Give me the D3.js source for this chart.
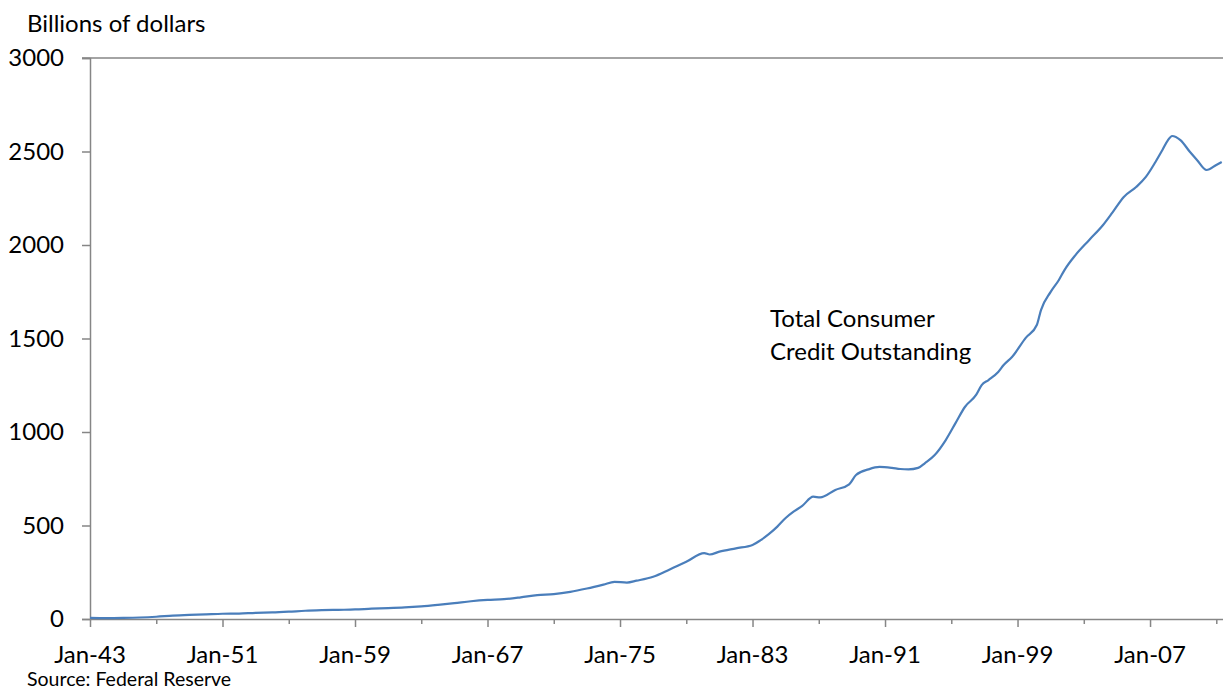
<!DOCTYPE html>
<html>
<head>
<meta charset="utf-8">
<script src="https://cdn.jsdelivr.net/npm/d3@7"></script>
<style>
  html, body { margin: 0; padding: 0; background: #fff; }
  svg { display: block; font-family: Lato, "Open Sans", sans-serif; }
</style>
</head>
<body>
<svg id="chart" width="1223" height="690"></svg>
<script>
// Total consumer credit outstanding, billions of dollars
const months = [
  "1943-01","1944-01","1945-01","1946-01","1947-01","1948-01","1949-01","1950-01",
  "1951-01","1952-01","1953-01","1954-01","1955-01","1956-01","1957-01","1958-01",
  "1959-01","1960-01","1961-01","1962-01","1963-01","1964-01","1965-01","1966-01",
  "1967-01","1968-01","1969-01","1970-01","1971-01","1972-01","1973-01","1974-01",
  "1974-09","1975-06","1976-01","1977-01","1978-01","1979-01","1980-02","1980-06",
  "1981-01","1982-01","1983-01","1983-07","1984-01","1984-07","1985-01","1985-07",
  "1986-01","1986-09","1987-02","1988-01","1988-11","1989-04","1990-01","1990-09",
  "1991-06","1991-12","1992-06","1993-01","1993-06","1994-01","1994-09","1995-04",
  "1995-11","1996-07","1996-11","1997-04","1997-11","1998-03","1998-09","1999-07",
  "2000-03","2000-06","2001-01","2001-07","2001-11","2002-07","2003-05","2004-03",
  "2004-10","2005-06","2006-03","2006-10","2007-05","2007-10","2008-02","2008-05",
  "2008-11","2009-06","2009-11","2010-06","2011-01","2011-05"
];
const credit = [
  6, 5, 6, 8, 12, 18, 22, 25,
  28, 29, 33, 35, 39, 44, 47, 49,
  51, 55, 58, 62, 68, 76, 85, 95,
  102, 106, 116, 128, 133, 145, 163, 184,
  199, 195, 205, 226, 265, 306, 352, 345,
  360, 378, 396, 422, 455, 494, 540, 575,
  605, 654, 650, 690, 720, 770, 800, 813,
  808, 802, 800, 808, 834, 877, 957, 1046,
  1135, 1198, 1251, 1278, 1321, 1358, 1401, 1503,
  1572, 1652, 1749, 1813, 1866, 1946, 2027, 2107,
  2176, 2257, 2310, 2364, 2444, 2508, 2561, 2583,
  2561, 2497, 2455, 2401, 2428, 2444
];
const yTicks = [0, 500, 1000, 1500, 2000, 2500, 3000];
const xTickYears = [1943, 1947, 1951, 1955, 1959, 1963, 1967, 1971, 1975, 1979,
                    1983, 1987, 1991, 1995, 1999, 2003, 2007, 2011];
const labelYears = [1943, 1951, 1959, 1967, 1975, 1983, 1991, 1999, 2007];

const parse = d3.timeParse("%Y-%m");
const data = months.map((m, i) => ({ date: parse(m), value: credit[i] }));

const svg = d3.select("#chart");
const plotLeft = 90, plotRight = 1223, plotTop = 58, plotBottom = 619;
const axisColor = "#868686";
const fontSize = 24;

const x = d3.scaleTime()
  .domain([new Date(1943, 0, 1), new Date(2011, 4, 29)])
  .range([plotLeft, plotRight]);
const y = d3.scaleLinear().domain([0, 3000]).range([plotBottom, plotTop]);

// Top border of plot area
svg.append("line")
  .attr("x1", plotLeft - 8).attr("x2", plotRight)
  .attr("y1", plotTop).attr("y2", plotTop)
  .attr("stroke", axisColor).attr("stroke-width", 1.5);

// Y axis
const yAxis = svg.append("g").attr("transform", `translate(${plotLeft},0)`)
  .call(d3.axisLeft(y).tickValues(yTicks).tickSize(8).tickPadding(18)
    .tickFormat(d3.format("d")));
yAxis.select(".domain").attr("stroke", axisColor).attr("stroke-width", 1.5);
yAxis.selectAll(".tick line").attr("stroke", axisColor).attr("stroke-width", 1.5);
yAxis.selectAll(".tick text")
  .attr("font-family", "Lato, sans-serif").attr("font-size", fontSize).attr("fill", "#000");

// X axis: ticks every four years, labels every eight
const xAxis = svg.append("g").attr("transform", `translate(0,${plotBottom})`)
  .call(d3.axisBottom(x)
    .tickValues(xTickYears.map(yr => new Date(yr, 0, 1)))
    .tickSize(0).tickFormat(""));
xAxis.select(".domain").attr("stroke", axisColor).attr("stroke-width", 1.5);
xAxis.selectAll(".tick line")
  .attr("stroke", axisColor).attr("stroke-width", 1.5)
  .attr("y2", d => labelYears.includes(d.getFullYear()) ? 8 : 5);

const fmt = d3.timeFormat("%b-%y");
svg.append("g").selectAll("text")
  .data(labelYears.map(yr => new Date(yr, 0, 1)))
  .join("text")
  .attr("x", d => x(d)).attr("y", 663)
  .attr("text-anchor", "middle")
  .attr("font-size", fontSize).attr("fill", "#000")
  .text(d => fmt(d));

// Series line
svg.append("clipPath").attr("id", "plot-clip")
  .append("rect").attr("x", plotLeft).attr("y", plotTop - 5)
  .attr("width", plotRight - plotLeft).attr("height", plotBottom - plotTop + 10);

svg.append("path")
  .datum(data)
  .attr("clip-path", "url(#plot-clip)")
  .attr("fill", "none")
  .attr("stroke", "#4a7ebb")
  .attr("stroke-width", 2.2)
  .attr("stroke-linejoin", "round")
  .attr("d", d3.line().x(d => x(d.date)).y(d => y(d.value)).curve(d3.curveMonotoneX));

// Titles and notes
svg.append("text").attr("x", 27).attr("y", 32)
  .attr("font-size", fontSize).attr("fill", "#000").text("Billions of dollars");

svg.append("text").attr("x", 27).attr("y", 686)
  .attr("font-size", 19.5).attr("fill", "#000").text("Source: Federal Reserve");

const note = svg.append("text").attr("x", 770).attr("y", 327)
  .attr("font-size", fontSize).attr("fill", "#000");
note.append("tspan").attr("x", 770).text("Total Consumer");
note.append("tspan").attr("x", 770).attr("dy", 33).text("Credit Outstanding");
</script>
</body>
</html>
